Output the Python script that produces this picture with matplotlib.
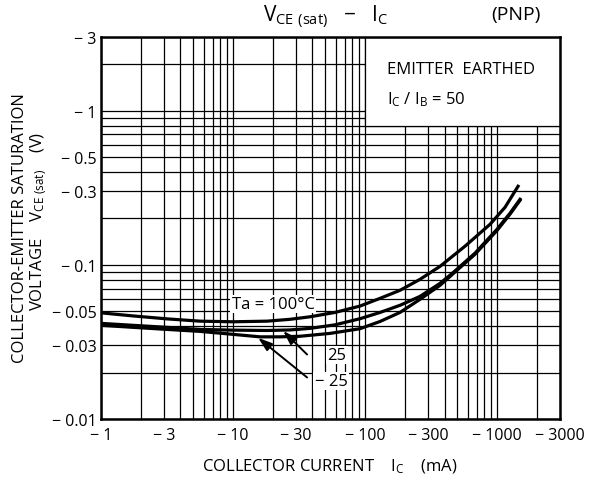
import numpy as np
import matplotlib.pyplot as plt
from matplotlib.ticker import LogLocator, NullFormatter
from matplotlib.patches import Rectangle

plt.rcParams['font.family'] = ['Open Sans', 'DejaVu Sans']
plt.rcParams['mathtext.default'] = 'regular'

# ----------------------------
# Datos (|IC| en mA, |VCE(sat)| en V)
# ----------------------------
ic_100 = [1, 1.75, 3.16, 5.62, 10, 18.1, 27, 38.3, 59.3, 91.6, 130, 184,
          261, 370, 572, 885, 1150, 1443]
vce_100 = [0.0488, 0.0466, 0.0446, 0.0431, 0.0427, 0.0431, 0.0443, 0.046,
           0.0491, 0.054, 0.0606, 0.0683, 0.0805, 0.0977, 0.132, 0.183,
           0.236, 0.323]

ic_25 = [1, 1.75, 3.16, 5.62, 10, 18.1, 27, 38.3, 59.3, 91.6, 130, 184,
         261, 370, 464, 681, 1000, 1254, 1494]
vce_25 = [0.0417, 0.0405, 0.0393, 0.0381, 0.0377, 0.0375, 0.0378, 0.0387,
          0.0408, 0.0447, 0.0491, 0.0546, 0.0624, 0.0758, 0.0889, 0.119,
          0.170, 0.216, 0.266]

ic_m25 = [1, 1.75, 3.16, 5.62, 10, 16, 22.7, 32.2, 54.3, 91.6, 130, 184,
          261, 370, 464, 681, 1000, 1254, 1494]
vce_m25 = [0.0405, 0.0393, 0.0381, 0.037, 0.0354, 0.0341, 0.0341, 0.0344,
           0.0359, 0.0385, 0.0429, 0.0491, 0.0597, 0.0736, 0.0874, 0.117,
           0.167, 0.213, 0.262]

x_ticks = [1, 3, 10, 30, 100, 300, 1000, 3000]
x_labels = ['− 1', '− 3', '− 10', '− 30', '− 100', '− 300', '− 1000', '− 3000']
y_ticks = [0.01, 0.03, 0.05, 0.1, 0.3, 0.5, 1, 3]
y_labels = ['− 0.01', '− 0.03', '− 0.05', '− 0.1', '− 0.3', '− 0.5', '− 1', '− 3']

# ----------------------------
# Figura
# ----------------------------
fig = plt.figure(figsize=(5.98, 4.89), dpi=100)
ax = fig.add_axes([0.1689, 0.1411, 0.7676, 0.7812])

ax.set_xscale('log')
ax.set_yscale('log')
ax.set_xlim(1, 3000)
ax.set_ylim(0.01, 3)

ax.set_xticks(x_ticks)
ax.set_xticklabels(x_labels)
ax.set_yticks(y_ticks)
ax.set_yticklabels(y_labels)
ax.xaxis.set_minor_locator(LogLocator(base=10, subs=np.arange(1, 10)))
ax.yaxis.set_minor_locator(LogLocator(base=10, subs=np.arange(1, 10)))
ax.xaxis.set_minor_formatter(NullFormatter())
ax.yaxis.set_minor_formatter(NullFormatter())
ax.tick_params(which='both', length=0, labelsize=11.5)
ax.tick_params(axis='x', pad=6)
ax.tick_params(axis='y', pad=3)

ax.set_axisbelow(True)
ax.grid(True, which='both', color='black', lw=0.9)
for s in ax.spines.values():
    s.set_linewidth(1.8)

# Recuadro blanco arriba a la derecha
ax.add_patch(Rectangle((100, 0.8), 2900, 2.2, facecolor='white',
                       edgecolor='black', lw=0.9, zorder=1))
ax.text(0.623, 0.916, 'EMITTER  EARTHED', transform=ax.transAxes,
        fontsize=12, ha='left', va='center', zorder=2)
ax.text(0.623, 0.838, r'I$_C$ / I$_B$ = 50', transform=ax.transAxes,
        fontsize=12, ha='left', va='center', zorder=2)

# Curvas
for ic, vce in [(ic_100, vce_100), (ic_25, vce_25), (ic_m25, vce_m25)]:
    ax.plot(ic, vce, color='black', lw=2.3, solid_joinstyle='round', zorder=3)

# Etiquetas de temperatura
ax.text(0.375, 0.301, 'Ta = 100°C', transform=ax.transAxes, fontsize=12,
        ha='center', va='center', zorder=4,
        bbox=dict(facecolor='white', edgecolor='none', pad=1))
ax.text(0.514, 0.1675, '25', transform=ax.transAxes, fontsize=12,
        ha='center', va='center', zorder=4,
        bbox=dict(facecolor='white', edgecolor='none', pad=1))
ax.text(0.501, 0.0995, '− 25', transform=ax.transAxes, fontsize=12,
        ha='center', va='center', zorder=4,
        bbox=dict(facecolor='white', edgecolor='none', pad=1))
ax.annotate('', xy=(24, 0.0372), xytext=(36.4, 0.0262),
            arrowprops=dict(arrowstyle='-|>,head_length=0.6,head_width=0.2',
                            color='black', lw=1.4,
                            mutation_scale=14, shrinkA=0, shrinkB=0), zorder=4)
ax.annotate('', xy=(15.5, 0.0336), xytext=(36.4, 0.0186),
            arrowprops=dict(arrowstyle='-|>,head_length=0.6,head_width=0.2',
                            color='black', lw=1.4,
                            mutation_scale=14, shrinkA=0, shrinkB=0), zorder=4)

# Títulos
fig.text(263 / 598, 1 - 17 / 489, r'V$_{CE\ (sat)}$   $-$   I$_C$',
         fontsize=15, ha='left', va='center')
fig.text(541 / 598, 1 - 15 / 489, '(PNP)', fontsize=14, ha='right', va='center')

fig.text(20 / 598, 1 - 228 / 489, 'COLLECTOR-EMITTER SATURATION',
         rotation=90, fontsize=12, ha='center', va='center')
fig.text(39 / 598, 1 - 221 / 489, r'VOLTAGE    V$_{CE\ (sat)}$    (V)',
         rotation=90, fontsize=12, ha='center', va='center')
fig.text(330 / 598, 1 - 467 / 489, r'COLLECTOR CURRENT    I$_C$    (mA)',
         fontsize=12, ha='center', va='center')

plt.savefig('out.png', dpi=100)
